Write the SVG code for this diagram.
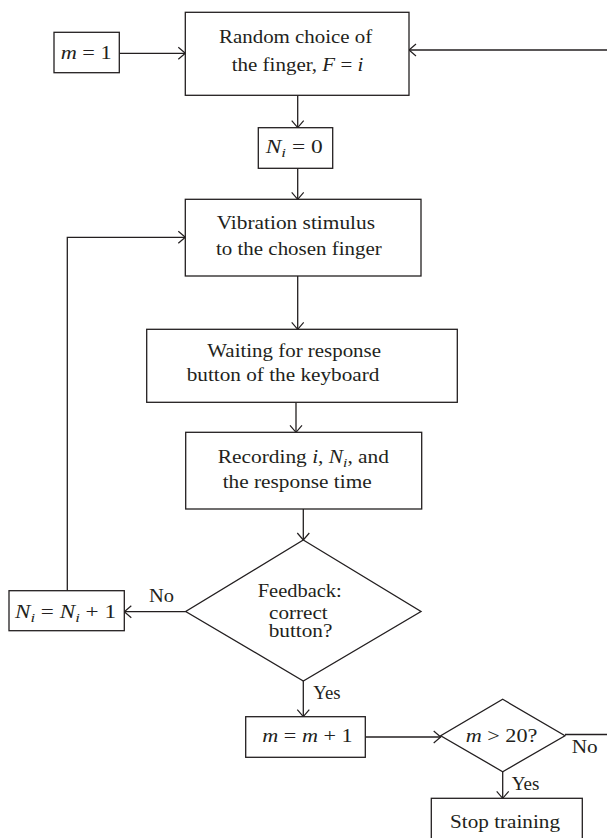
<svg xmlns="http://www.w3.org/2000/svg" width="607" height="838" viewBox="0 0 607 838">
<style>
.box{fill:#fff;stroke:#231f20;stroke-width:1.3}
.ln{fill:none;stroke:#231f20;stroke-width:1.3}
.arr{marker-end:url(#ah)}
text{font-family:"Liberation Serif","Times New Roman",serif;font-size:18px;fill:#231f20}
.it{font-style:italic}
.sub{font-style:italic;font-size:13px}
</style>
<defs>
<marker id="ah" viewBox="-8 -7 9 14" refX="0" refY="0" markerWidth="9" markerHeight="14" markerUnits="userSpaceOnUse" orient="auto">
<path d="M-7,-6 L0,0 L-7,6" fill="none" stroke="#231f20" stroke-width="1.2"/>
</marker>
</defs>
<rect width="607" height="838" fill="#fff"/>
<g id="connectors">
<path class="ln arr" d="M119.3,53.3 H185.3"/>
<path class="ln arr" d="M607,50 H409"/>
<path class="ln arr" d="M297.7,95.3 V127.7"/>
<path class="ln arr" d="M297.7,168.3 V199.3"/>
<path class="ln arr" d="M297.7,276 V329.3"/>
<path class="ln arr" d="M296,402.3 V432.3"/>
<path class="ln arr" d="M303.3,509 V540"/>
<path class="ln arr" d="M185.7,611.7 H124.3"/>
<path class="ln arr" d="M67.3,590.7 V237.3 H185.3"/>
<path class="ln arr" d="M303.3,681 V716.7"/>
<path class="ln arr" d="M365.3,737 H440.7"/>
<path class="ln" d="M565,734.5 H607"/>
<path class="ln arr" d="M502.7,771.7 V798.3"/>
<text x="149" y="602.3" textLength="25" lengthAdjust="spacingAndGlyphs">No</text>
<text x="313.3" y="699.3" textLength="27.3" lengthAdjust="spacingAndGlyphs">Yes</text>
<text x="571.7" y="753.3" textLength="26" lengthAdjust="spacingAndGlyphs">No</text>
<text x="511.7" y="790" textLength="27.7" lengthAdjust="spacingAndGlyphs">Yes</text>
</g>
<g id="m1">
<rect class="box" x="54" y="32.3" width="65.3" height="40.4"/>
<text x="60.7" y="59" textLength="51" lengthAdjust="spacingAndGlyphs"><tspan class="it">m</tspan> = 1</text>
</g>
<g id="random">
<rect class="box" x="185.3" y="12.3" width="223.7" height="83"/>
<text x="219" y="43.3" textLength="153.3" lengthAdjust="spacingAndGlyphs">Random choice of</text>
<text x="231.7" y="71" textLength="131.7" lengthAdjust="spacingAndGlyphs">the finger, <tspan class="it">F</tspan> = <tspan class="it">i</tspan></text>
</g>
<g id="ni0">
<rect class="box" x="258.3" y="127.7" width="74.4" height="40.6"/>
<text x="265.7" y="153.3" textLength="57" lengthAdjust="spacingAndGlyphs"><tspan class="it">N</tspan><tspan class="sub" dy="4">i</tspan><tspan dy="-4"> = 0</tspan></text>
</g>
<g id="vibration">
<rect class="box" x="185.3" y="199.3" width="235.7" height="76.7"/>
<text x="216.7" y="229.3" textLength="158.3" lengthAdjust="spacingAndGlyphs">Vibration stimulus</text>
<text x="216" y="255" textLength="165.7" lengthAdjust="spacingAndGlyphs">to the chosen finger</text>
</g>
<g id="waiting">
<rect class="box" x="146.7" y="329.3" width="310.6" height="73"/>
<text x="207.3" y="357.3" textLength="173.7" lengthAdjust="spacingAndGlyphs">Waiting for response</text>
<text x="186.7" y="381" textLength="192.7" lengthAdjust="spacingAndGlyphs">button of the keyboard</text>
</g>
<g id="recording">
<rect class="box" x="185.7" y="432.3" width="236" height="76.7"/>
<text x="217.7" y="462.7" textLength="171.3" lengthAdjust="spacingAndGlyphs">Recording <tspan class="it">i</tspan>, <tspan class="it">N</tspan><tspan class="sub" dy="4">i</tspan><tspan dy="-4">, and</tspan></text>
<text x="222.7" y="488" textLength="149" lengthAdjust="spacingAndGlyphs">the response time</text>
</g>
<g id="feedback">
<polygon class="box" points="303.3,540 421,611.5 303.3,681 185.7,611.5"/>
<text x="257.7" y="596.7" textLength="84" lengthAdjust="spacingAndGlyphs">Feedback:</text>
<text x="269" y="618.7" textLength="58.7" lengthAdjust="spacingAndGlyphs">correct</text>
<text x="268.7" y="637.3" textLength="63.7" lengthAdjust="spacingAndGlyphs">button?</text>
</g>
<g id="ni_inc">
<rect class="box" x="9" y="590.7" width="115.3" height="40"/>
<text x="15" y="618.3" textLength="101" lengthAdjust="spacingAndGlyphs"><tspan class="it">N</tspan><tspan class="sub" dy="4">i</tspan><tspan dy="-4"> = </tspan><tspan class="it">N</tspan><tspan class="sub" dy="4">i</tspan><tspan dy="-4"> + 1</tspan></text>
</g>
<g id="m_inc">
<rect class="box" x="245.7" y="716.7" width="119.6" height="40.6"/>
<text x="262.3" y="742" textLength="90.3" lengthAdjust="spacingAndGlyphs"><tspan class="it">m</tspan> = <tspan class="it">m</tspan> + 1</text>
</g>
<g id="m20">
<polygon class="box" points="502.7,699.3 565,735.7 502.7,771.7 440.7,735.7"/>
<text x="465.7" y="741.7" textLength="71.7" lengthAdjust="spacingAndGlyphs"><tspan class="it">m</tspan> &gt; 20?</text>
</g>
<g id="stop">
<rect class="box" x="431.3" y="798.3" width="151" height="50"/>
<text x="450" y="828.3" textLength="110" lengthAdjust="spacingAndGlyphs">Stop training</text>
</g>
</svg>
